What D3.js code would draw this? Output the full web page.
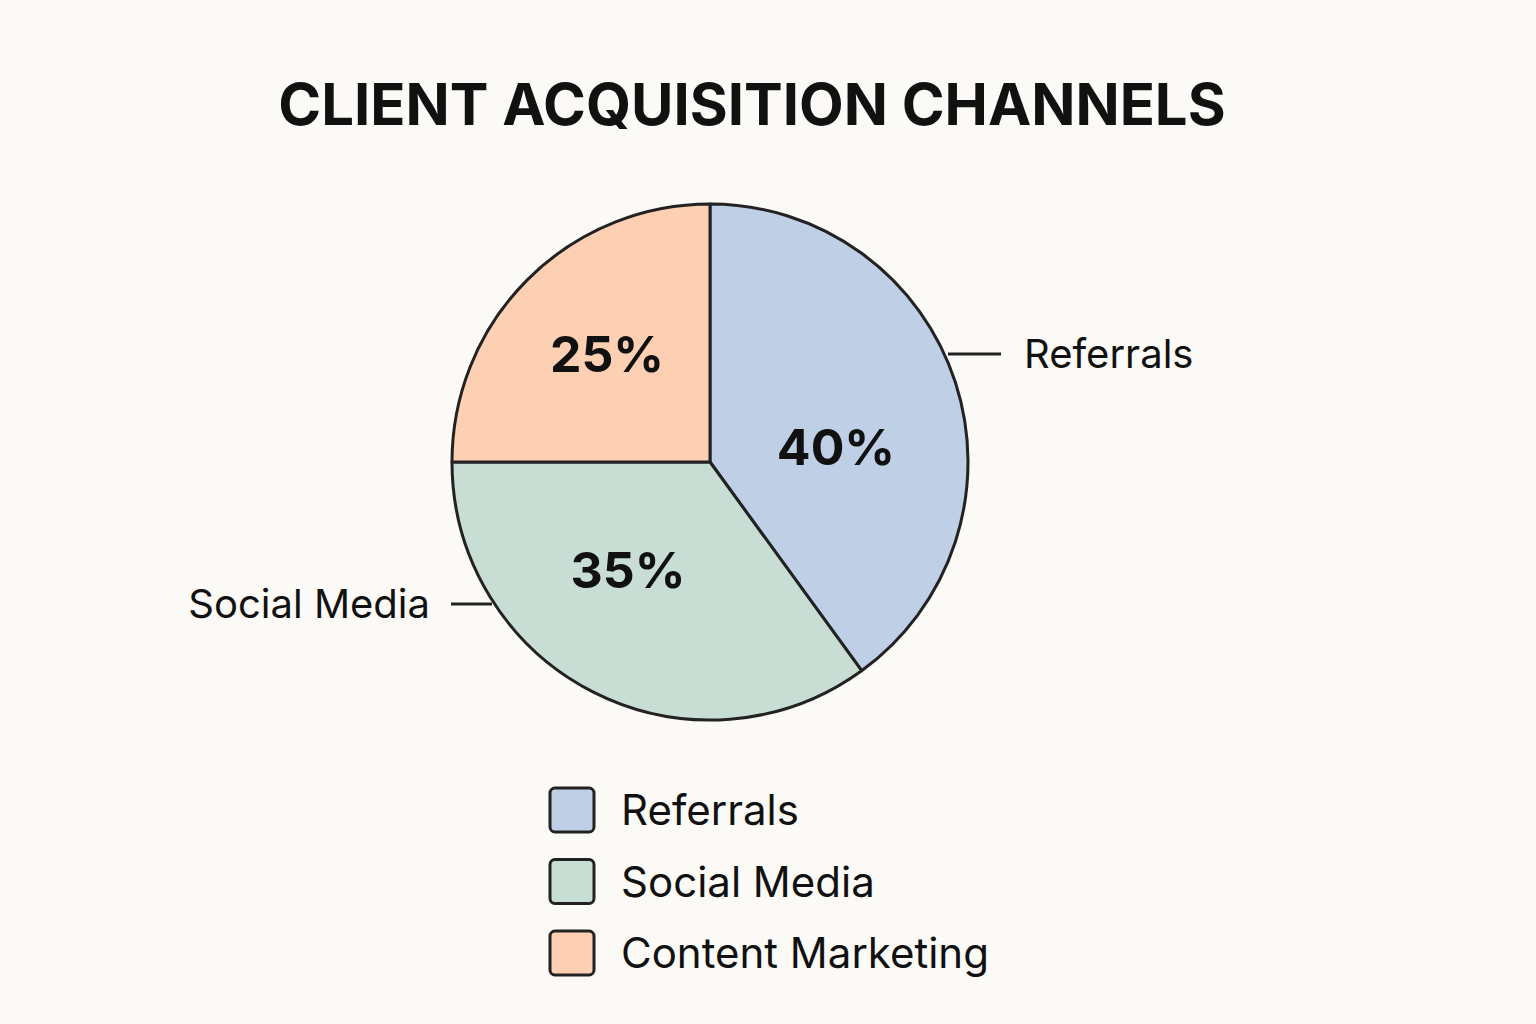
<!DOCTYPE html>
<html><head><meta charset="utf-8">
<script src="https://cdn.jsdelivr.net/npm/d3@7"></script>
<style>body{margin:0;background:#fcfaf6}</style></head>
<body><svg id="c" width="1536" height="1024"></svg>
<script>
const categories = ["Referrals", "Social Media", "Content Marketing"];
const values = [40, 35, 25];
const colors = ["#bfcfe5", "#c8ddd4", "#fdd0b3"];
const title = "CLIENT ACQUISITION CHANNELS";

const svg = d3.select("#c");
svg.append("rect").attr("width",1536).attr("height",1024).attr("fill","#fcfaf6");
svg.append("text").attr("x",752).attr("y",125).attr("text-anchor","middle")
  .attr("font-family","Inter, 'DejaVu Sans', sans-serif").attr("font-weight",700)
  .attr("font-size",58).attr("fill","#111").text(title);

const cx=710, cy=462, r=258;
const g = svg.append("g").attr("transform",`translate(${cx},${cy})`);
const pie = d3.pie().sort(null).value(d=>d)(values);
const arc = d3.arc().innerRadius(0).outerRadius(r);
g.selectAll("path").data(pie).join("path").attr("d",arc)
  .attr("fill",(d,i)=>colors[i]).attr("stroke","#222").attr("stroke-width",3).attr("stroke-linejoin","round");

const labelPos = [[126,-15],[-82,108],[-103,-108]];
g.selectAll("text.pct").data(pie).join("text").attr("class","pct")
  .attr("x",(d,i)=>labelPos[i][0]).attr("y",(d,i)=>labelPos[i][1]+18)
  .attr("text-anchor","middle").attr("font-family","Inter, 'DejaVu Sans', sans-serif")
  .attr("font-weight",700).attr("font-size",50).attr("fill","#111")
  .text(d=>d.data+"%");

// leader lines
svg.append("line").attr("x1",948).attr("x2",1001).attr("y1",354).attr("y2",354).attr("stroke","#222").attr("stroke-width",3);
svg.append("text").attr("x",1024).attr("y",368).attr("font-family","Inter, 'DejaVu Sans', sans-serif").attr("font-size",40).attr("fill","#111").text(categories[0]);
svg.append("line").attr("x1",451).attr("x2",492).attr("y1",604).attr("y2",604).attr("stroke","#222").attr("stroke-width",3);
svg.append("text").attr("x",430).attr("y",618).attr("text-anchor","end").attr("font-family","Inter, 'DejaVu Sans', sans-serif").attr("font-size",40).attr("fill","#111").text(categories[1]);

// legend
const lg = svg.append("g");
categories.forEach((c,i)=>{
  const y = 788 + i*71.5;
  lg.append("rect").attr("x",550).attr("y",y).attr("width",44).attr("height",44).attr("rx",5)
    .attr("fill",colors[i]).attr("stroke","#222").attr("stroke-width",3);
  lg.append("text").attr("x",621).attr("y",y+37).attr("font-family","Inter, 'DejaVu Sans', sans-serif")
    .attr("font-size",42).attr("fill","#111").text(c);
});
</script></body></html>
